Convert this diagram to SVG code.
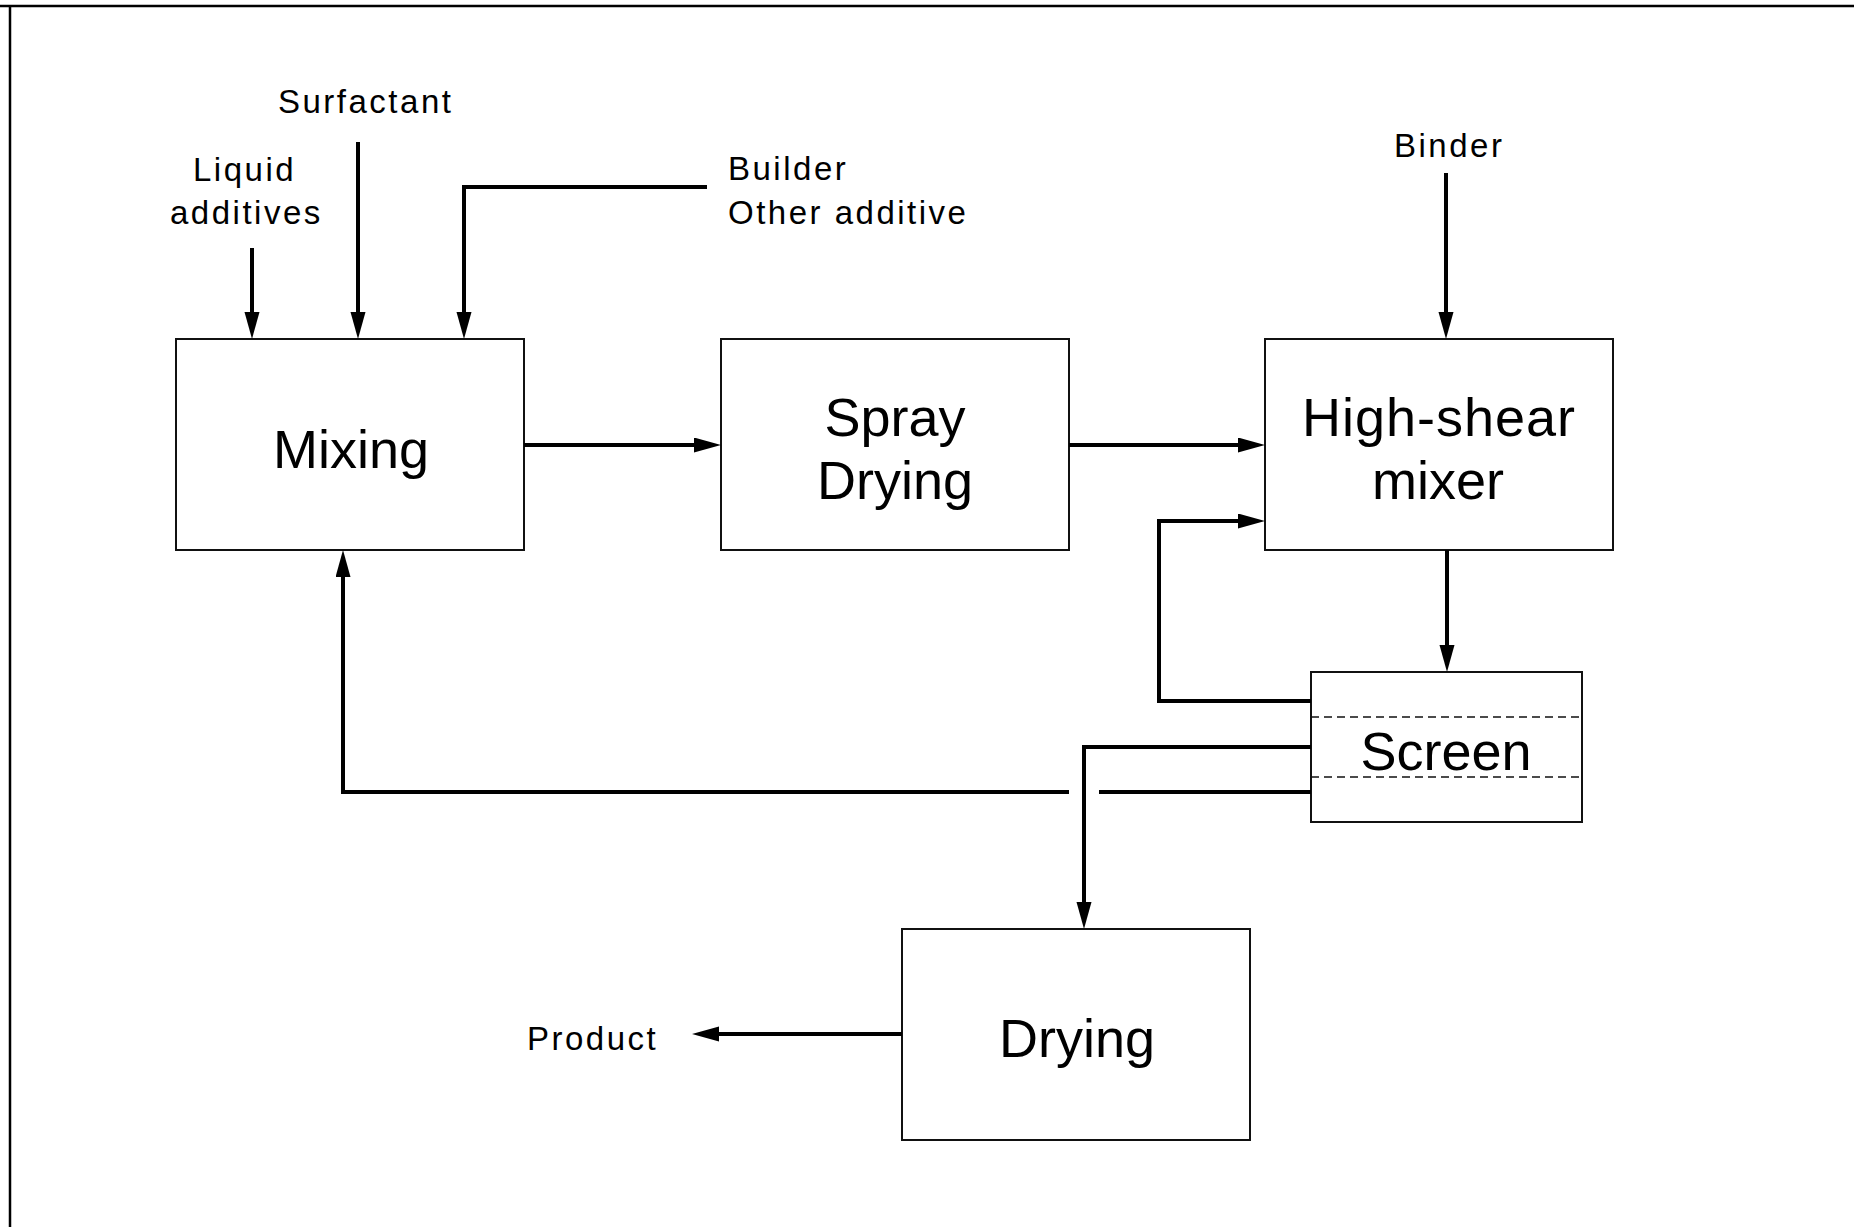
<svg xmlns="http://www.w3.org/2000/svg" width="1854" height="1227" viewBox="0 0 1854 1227">
<style>
.box{fill:#fff;stroke:#111;stroke-width:2}
.big{font-family:"Liberation Sans",Arial,sans-serif;font-size:54px;fill:#000;text-anchor:middle}
.small{font-family:"Liberation Sans",Arial,sans-serif;font-size:33px;fill:#000;letter-spacing:2.5px}
.ln{fill:none;stroke:#000;stroke-width:4}
.arr{fill:none;stroke:#000;stroke-width:4;marker-end:url(#ah)}
.dash{stroke:#111;stroke-width:1.5;stroke-dasharray:8 5}
</style>
<defs>
<marker id="ah" markerUnits="userSpaceOnUse" markerWidth="28" markerHeight="16" refX="17" refY="7.5" orient="auto">
<path d="M0,0 L27,7.5 L0,15 z" fill="#000"/>
</marker>
</defs>
<rect width="1854" height="1227" fill="#fff"/>
<g id="frame">
<line x1="0" y1="6" x2="1854" y2="6" stroke="#000" stroke-width="2.5"/>
<line x1="10" y1="5" x2="10" y2="1227" stroke="#000" stroke-width="2.5"/>
</g>
<g id="labels">
<text class="small" x="278" y="113">Surfactant</text>
<text class="small" x="193" y="181">Liquid</text>
<text class="small" x="170" y="224">additives</text>
<text class="small" x="728" y="180">Builder</text>
<text class="small" x="728" y="224">Other additive</text>
<text class="small" x="1394" y="157">Binder</text>
<text class="small" x="527" y="1050">Product</text>
</g>
<g id="mixing">
<rect class="box" x="176" y="339" width="348" height="211"/>
<text class="big" x="351" y="468">Mixing</text>
</g>
<g id="spray-drying">
<rect class="box" x="721" y="339" width="348" height="211"/>
<text class="big" x="895" y="436">Spray</text>
<text class="big" x="895" y="499">Drying</text>
</g>
<g id="high-shear-mixer">
<rect class="box" x="1265" y="339" width="348" height="211"/>
<text class="big" x="1439" y="436" letter-spacing="1">High-shear</text>
<text class="big" x="1438" y="499">mixer</text>
</g>
<g id="screen">
<rect class="box" x="1311" y="672" width="271" height="150"/>
<line class="dash" x1="1311" y1="717" x2="1582" y2="717"/>
<line class="dash" x1="1311" y1="777" x2="1582" y2="777"/>
<text class="big" x="1446" y="770">Screen</text>
</g>
<g id="drying">
<rect class="box" x="902" y="929" width="348" height="211"/>
<text class="big" x="1077" y="1057">Drying</text>
</g>
<g id="connectors">
<path class="arr" d="M252,248 V329"/>
<path class="arr" d="M358,142 V329"/>
<path class="arr" d="M707,187 H464 V329"/>
<path class="arr" d="M1446,173 V329"/>
<path class="arr" d="M524,445 H711"/>
<path class="arr" d="M1069,445 H1255"/>
<path class="arr" d="M1447,550 V662"/>
<path class="arr" d="M1311,701 H1159 V521 H1255"/>
<path class="arr" d="M1311,747 H1084 V919"/>
<path class="ln" d="M1311,792 H1099"/>
<path class="arr" d="M1069,792 H343 V560"/>
<path class="arr" d="M902,1034 H702"/>
</g>
</svg>
